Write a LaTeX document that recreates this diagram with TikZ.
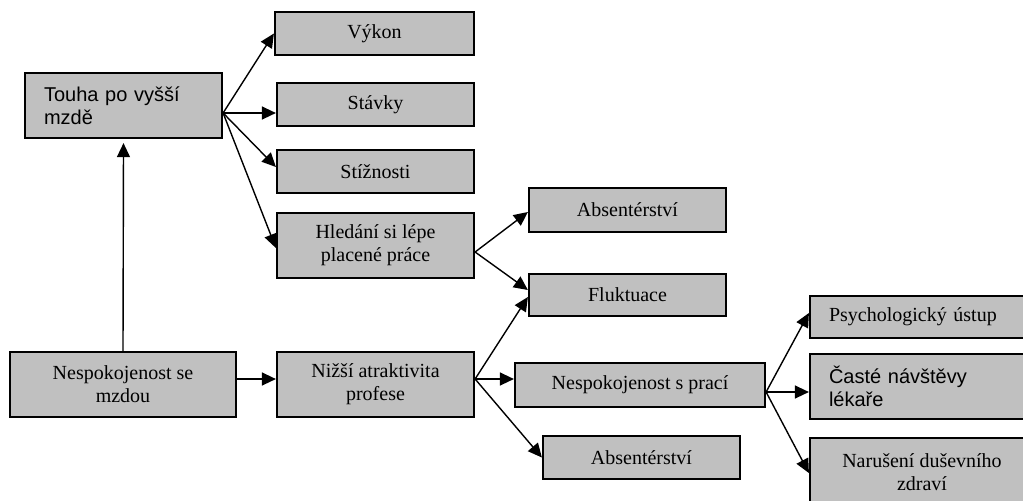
\documentclass[tikz,border=0pt]{standalone}
\usepackage{fontspec}
\setmainfont{Liberation Serif}
\newfontfamily\arialfont{Liberation Sans}
\usetikzlibrary{positioning,arrows.meta,calc}
\definecolor{boxgray}{RGB}{192,192,192}

\begin{document}
\begin{tikzpicture}[x=0.5pt,y=-0.5pt,
    >={Triangle[length=7pt,width=6.5pt]},
    box/.style={draw,line width=1.1pt,fill=boxgray,align=center,inner sep=0pt,
        minimum width=98.5pt,minimum height=21.5pt,
        font=\fontsize{10pt}{11.5pt}\selectfont},
    tall/.style={minimum height=32.5pt},
    sans/.style={font=\arialfont\fontsize{10pt}{11.5pt}\selectfont},
    leftbox/.style={align=left,inner xsep=9.5pt},
    link/.style={->,line width=0.7pt}]
% Units: 1 unit = 1 pixel of the 1023x500 layout, y grows downwards
\useasboundingbox (0,0) rectangle (1023,500);

% Left column
\node[box,tall,sans,leftbox,text width=79.5pt] (touha) at (123.5,105.5) {Touha po vyšší\\mzdě};
\node[box,tall,minimum width=113pt] (nespmzda) at (123,384.5) {Nespokojenost se\\mzdou};

% Second column
\node[box,minimum width=99.5pt] (vykon) at (374.5,33.5) {Výkon};
\node[box] (stavky) at (375.5,104.5) {Stávky};
\node[box] (stizn) at (375.5,171.5) {Stížnosti};
\node[box,tall] (hledani) at (375.5,245.5) {Hledání si lépe\\placené práce};
\node[box,tall] (nizsi) at (375.5,384.5) {Nižší atraktivita\\profese};

% Third column
\node[box,minimum height=22pt] (absent1) at (627.5,210) {Absentérství};
\node[box,minimum height=21pt] (flukt) at (627.5,295) {Fluktuace};
\node[box,minimum width=125pt,minimum height=22pt] (nespprace) at (640,385) {Nespokojenost s prací};
\node[box] (absent2) at (641.5,457.5) {Absentérství};

% Right column (cut by the page edge)
\node[box,leftbox,minimum height=21pt,text width=93pt] (psych) at (922,317) {Psychologický ústup};
\node[box,tall,sans,leftbox,text width=93pt] (caste) at (922,386.5) {Časté návštěvy\\lékaře};
\node[box,minimum height=34pt,minimum width=112pt] (narus) at (922,472) {Narušení duševního\\zdraví};

% Fan-out points
\coordinate (touhaout) at ($(touha.east)+(0,7.5)$);
\coordinate (hledout) at ($(hledani.east)+(0,6.5)$);
\coordinate (nizout) at ($(nizsi.east)+(0,-5.5)$);
\coordinate (pracout) at ($(nespprace.east)+(0,7)$);

% Connectors
\draw[link] (nespmzda.north) -- ($(touha.south)+(0,4)$);
\draw[link] ($(nespmzda.east)+(0,-5.5)$) -- ($(nizsi.west)+(0,-5.5)$);
\foreach \dst/\dy in {vykon/0,stavky/8.5,stizn/-4.5,hledani/2.5}
    \draw[link] (touhaout) -- ($(\dst.west)+(0,\dy)$);
\foreach \dst/\dy in {absent1/2,flukt/-5}
    \draw[link] (hledout) -- ($(\dst.west)+(0,\dy)$);
\foreach \dst/\dy in {flukt/2,nespprace/-6,absent2/0}
    \draw[link] (nizout) -- ($(\dst.west)+(0,\dy)$);
\foreach \dst/\dy in {psych/-4,caste/5.5,narus/1}
    \draw[link] (pracout) -- ($(\dst.west)+(0,\dy)$);
\end{tikzpicture}
\end{document}
